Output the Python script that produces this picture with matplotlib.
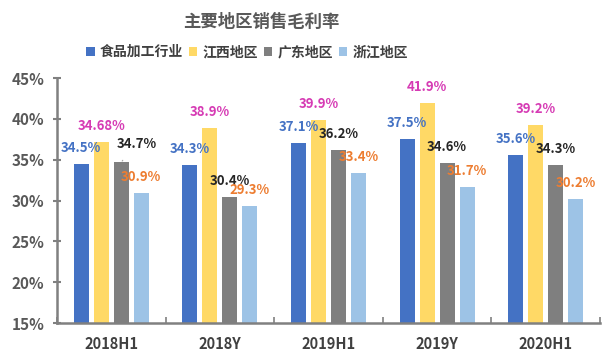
import matplotlib
matplotlib.use("Agg")
import matplotlib.pyplot as plt
import numpy as np

plt.rcParams['font.family'] = ['Noto Sans CJK SC', 'DejaVu Sans']

categories = ["2018H1", "2018Y", "2019H1", "2019Y", "2020H1"]
series_names = ["食品加工行业", "江西地区", "广东地区", "浙江地区"]
food = [34.5, 34.3, 37.1, 37.5, 35.6]
jiangxi = [37.2, 38.9, 39.9, 41.9, 39.2]
guangdong = [34.7, 30.4, 36.2, 34.6, 34.3]
zhejiang = [30.9, 29.3, 33.4, 31.7, 30.2]
food_labels = ["34.5%", "34.3%", "37.1%", "37.5%", "35.6%"]
jiangxi_labels = ["34.68%", "38.9%", "39.9%", "41.9%", "39.2%"]
guangdong_labels = ["34.7%", "30.4%", "36.2%", "34.6%", "34.3%"]
zhejiang_labels = ["30.9%", "29.3%", "33.4%", "31.7%", "30.2%"]
yticks = [15, 20, 25, 30, 35, 40, 45]

bar_colors = ["#4472C4", "#FFD966", "#7F7F7F", "#9DC3E6"]
label_colors = ["#4472C4", "#D63BB4", "#262626", "#ED7D31"]

fig = plt.figure(figsize=(6.10, 3.64), dpi=100)
ax = fig.add_axes([0.0934, 0.1126, 0.8902, 0.6731])

x = np.arange(len(categories))
width = 0.138
step = 0.184
all_vals = [food, jiangxi, guangdong, zhejiang]
all_labels = [food_labels, jiangxi_labels, guangdong_labels, zhejiang_labels]
for i, (vals, labs) in enumerate(zip(all_vals, all_labels)):
    pos = x + (i - 1.5) * step
    ax.bar(pos, [v - 15 for v in vals], width, bottom=15, color=bar_colors[i],
           label=series_names[i], zorder=2)
    for j, (p, v, t) in enumerate(zip(pos, vals, labs)):
        if i == 2 and j == 0:
            ax.annotate(t, xy=(p, v), xytext=(15, 18), textcoords='offset pixels',
                        ha='center', va='center', fontsize=9.5, fontweight='bold',
                        color=label_colors[i],
                        arrowprops=dict(arrowstyle='-', color='#A6A6A6', lw=0.8,
                                        shrinkA=6, shrinkB=1))
        else:
            ax.annotate(t, xy=(p, v), xytext=(0, 16), textcoords='offset pixels',
                        ha='center', va='center', fontsize=9.5, fontweight='bold',
                        color=label_colors[i])

ax.set_xlim(-0.5, len(categories) - 0.5)
ax.set_ylim(15, 45)
ax.set_yticks(yticks)
ax.set_yticklabels([f"{t}%" for t in yticks], fontsize=11, fontweight='bold', color='#595959')
ax.set_xticks(x)
ax.set_xticklabels(categories, fontsize=10.5, fontweight='bold', color='#404040')
ax.set_xticks(np.arange(len(categories) + 1) - 0.5, minor=True)
ax.tick_params(axis='x', which='major', length=0, pad=9)
ax.tick_params(axis='x', which='minor', length=4, direction='in', color='#808080', width=1.2)
ax.tick_params(axis='y', length=6, direction='inout', color='#808080', width=1.5, pad=6)

for s in ['top', 'right']:
    ax.spines[s].set_visible(False)
for s in ['left', 'bottom']:
    ax.spines[s].set_color('#808080')
    ax.spines[s].set_linewidth(1.8)

fig.text(0.428, 0.94, "主要地区销售毛利率", ha='center', va='center', fontsize=12.5,
         fontweight='bold', color='#595959')
leg = fig.legend(loc='center', bbox_to_anchor=(0.405, 0.857), ncol=4, frameon=False,
                 handlelength=0.6, handleheight=0.6, handletextpad=0.35, columnspacing=0.45,
                 prop={'size': 10, 'weight': 'bold'})
for t in leg.get_texts():
    t.set_color('#404040')

fig.savefig("out.png", dpi=100)
